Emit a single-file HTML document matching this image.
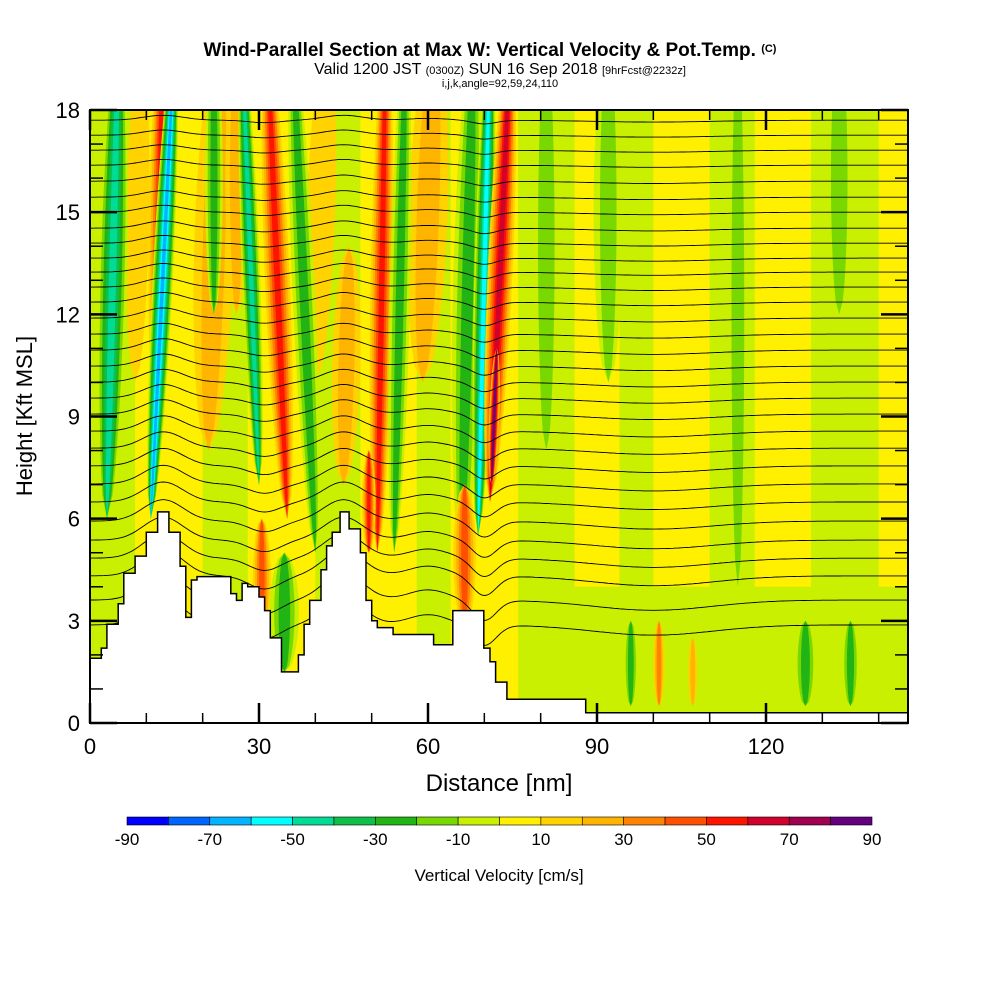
<!DOCTYPE html>
<html><head><meta charset="utf-8">
<style>
body{margin:0;background:#fff;}
svg{display:block;font-family:"Liberation Sans",sans-serif;}
</style></head>
<body>
<svg id="chart" width="1000" height="1000" viewBox="0 0 1000 1000" xmlns="http://www.w3.org/2000/svg">
<defs><clipPath id="plotclip"><rect x="90" y="110" width="818" height="613"/></clipPath></defs>
<text x="490" y="56" text-anchor="middle" font-size="19" font-weight="bold">Wind-Parallel Section at Max W: Vertical Velocity &amp; Pot.Temp. <tspan font-size="11" dy="-4">(C)</tspan></text>
<text x="500" y="74" text-anchor="middle" font-size="16">Valid 1200 JST <tspan font-size="11">(0300Z)</tspan> SUN 16 Sep 2018 <tspan font-size="11">[9hrFcst@2232z]</tspan></text>
<text x="500" y="87" text-anchor="middle" font-size="11">i,j,k,angle=92,59,24,110</text>
<g id="field" clip-path="url(#plotclip)"></g>
<g id="contours" clip-path="url(#plotclip)"></g>
<g id="terrain" clip-path="url(#plotclip)"></g>
<g id="axes"></g>
<g id="cbar"></g>
<text x="499" y="791" text-anchor="middle" font-size="24">Distance [nm]</text>
<text transform="translate(32,416) rotate(-90)" text-anchor="middle" font-size="22">Height [Kft MSL]</text>
<text x="499" y="881" text-anchor="middle" font-size="17">Vertical Velocity [cm/s]</text>
</svg>
<script>
const colors=["#0000ff","#0064ff","#00b4ff","#00ffff","#00dc96","#0cc04a","#22b414","#78d800","#c8f000","#fff000","#ffd200","#ffb400","#ff8200","#ff5000","#ff1400","#d2002d","#a00050","#640082"];
const cbarTicks=[-90,-70,-50,-30,-10,10,30,50,70,90];
const xTicks=[0,30,60,90,120];
const yTicks=[0,3,6,9,12,15,18];
// background bands [nm0, nm1, kft0, kft1, value]
const bgBands=[[0,8,0,18,-5],[8,20,0,18,5],[20,28,0,18,-5],[28,40,0,18,5],[40,48,0,18,-5],[48,58,0,18,5],[58,64,0,18,-5],[64,76,0,18,5],[76,86,0,18,-5],[86,94,0,18,5],[94,100,0,18,-5],[100,110,0,18,5],[110,118,0,18,-5],[118,128,0,18,5],[128,140,0,18,-5],[140,146,0,18,5],[80,146,0,4,-5]];
// streaks [nmBottom, nmTop, kftBottom, kftTop, value, halfWidthNm]
const streaks=[[21,23,8,20,25,3.5],[59,61,10,20,25,3.5],[45,46,7,14,25,2.5],[40,42,10,20,15,2.5],[8,9,10,20,15,2],[26,26,12,20,25,2],[22,22,12,20,-25,1.6],
[3,5,6,20,-45,2.6],[12,12.8,8.5,20,55,2],[10.8,15,6,20,-65,1.8],
[30,27,7,20,-45,1.6],[35,31.5,6,20,55,2.2],[40,36,5,20,-30,2],
[51,52.5,5,20,55,2],[54,56,5,20,-30,1.8],[49.5,49.5,5,8,55,1.2],
[66,68,5,20,-25,2.6],[68.9,71,5.5,20,-60,1.8],[71,74.6,6.5,20,65,2.2],[71.3,72.2,7,11,85,0.9],
[30.5,30.5,2.5,6,45,1.6],[66.5,66.5,2.8,7,45,2],[34.5,34.5,1.5,5,-25,2.6],
[101,101,0.5,3,35,1],[107,107,0.5,2.5,25,0.8],[127,127,0.5,3,-25,2],[135,135,0.5,3,-25,1.6],[96,96,0.5,3,-25,1.3],
[81,81,8,20,-18,2.6],[92,92,10,20,-15,2.6],[133,133,12,20,-15,2.6],[115,115,4,20,-15,2]];
// terrain steps [nmStart, kft]
const terrain=[[0,1.9],[2,2.2],[3,2.9],[5,3.5],[6,4.4],[8,4.9],[10,5.6],[12,6.2],[14,5.6],[16,4.6],[17,3.1],[18,4.2],[19,4.3],[25,3.8],[26,3.6],[27,4.1],[28,4.0],[30,3.7],[31,3.3],[32,2.5],[34,1.5],[37,2.0],[38,2.9],[39,3.6],[41,4.5],[42,5.2],[43,5.6],[44.4,6.2],[46,5.7],[48,5.0],[49,3.6],[50,3.0],[51,2.8],[53.8,2.6],[61,2.3],[64.4,3.3],[69.9,2.2],[71,1.8],[72,1.2],[74,0.7],[88,0.3],[146,0.3]];
// theta contour base heights (kft, right side)
const thetaLevels=[17.70,17.26,16.82,16.38,15.91,15.44,15.00,14.53,14.09,13.65,13.24,12.80,12.36,11.89,11.42,10.95,10.48,10.01,9.54,9.07,8.57,8.07,7.55,7.02,6.49,5.93,5.37,4.84,4.32,3.61,2.88];
// contour bumps [nm, amplitudeKft, widthNm]
const bumps=[[13,0.8,5],[45,0.8,5],[31,-0.4,4],[70,-0.6,3],[60,0.3,5],[100,-0.3,15]];

const NS="http://www.w3.org/2000/svg";
const X=nm=>90+nm*169/30, Y=k=>723-k*613/18;
const col=v=>colors[Math.max(0,Math.min(17,Math.floor((v+90)/10)))];
function mk(tag,attrs,parent){const e=document.createElementNS(NS,tag);for(const a in attrs)e.setAttribute(a,attrs[a]);parent.appendChild(e);return e;}
const field=document.getElementById('field');
bgBands.forEach(b=>{
  const r=mk('rect',{x:X(b[0]),y:Y(b[3]),width:X(b[1])-X(b[0])+0.5,height:Y(b[2])-Y(b[3]),fill:col(b[4])},field);
  
  
});
streaks.forEach(s=>{
  const v=s[4],sg=Math.sign(v),mag=Math.abs(v);
  const levels=[];
  if(sg>0){for(let L=10;L<=mag;L+=10)levels.push(L);} else {for(let L=0;L<mag;L+=10)levels.push(L);}
  levels.forEach((L,i)=>{
    const f=1-i/(levels.length+0.3);
    const w=s[5]*f;
    const left=[],right=[];
    for(let j=0;j<=20;j++){
      const t=j/20,k=s[2]+t*(s[3]-s[2]),c=s[0]+t*(s[1]-s[0]);
      const hw=w*Math.pow(Math.sin(Math.PI*t),0.45);
      left.push(X(c-hw).toFixed(1)+','+Y(k).toFixed(1));
      right.unshift(X(c+hw).toFixed(1)+','+Y(k).toFixed(1));
    }
    const val=sg>0?L+5:-(L+5);
    const p=mk('polygon',{points:left.concat(right).join(' '),fill:col(val)},field);
    
    
  });
});
// contours
const cg=document.getElementById('contours');
thetaLevels.forEach(base=>{
  let d='';
  for(let x=0;x<=146;x+=0.5){
    let h=base;
    const decay=Math.exp(-Math.max(0,base-4)/8);
    bumps.forEach(b=>{h+=b[1]*decay*Math.exp(-Math.pow((x-b[0])/b[2],2));});
    d+=(x===0?'M':'L')+X(x).toFixed(1)+','+Y(h).toFixed(1);
  }
  const p=mk('path',{d:d,fill:'none',stroke:'#000','stroke-width':0.9},cg);
  
  
});
// terrain
const tg=document.getElementById('terrain');
let td='M'+X(0)+','+Y(0);
terrain.forEach((t,i)=>{
  const xe=i+1<terrain.length?terrain[i+1][0]:146;
  td+='L'+X(t[0]).toFixed(1)+','+Y(t[1]).toFixed(1)+'L'+X(xe).toFixed(1)+','+Y(t[1]).toFixed(1);
});
td+='L'+X(146)+','+Y(0)+'Z';
const tp=mk('path',{d:td,fill:'#fff',stroke:'#000','stroke-width':1.5},tg);


// axes
const ax=document.getElementById('axes');
const fr=mk('rect',{x:90,y:110,width:818,height:613,fill:'none',stroke:'#000','stroke-width':2},ax);


for(let nm=0;nm<=140;nm+=10){
  const major=nm%30===0,len=major?20:10;
  mk('line',{x1:X(nm),y1:723,x2:X(nm),y2:723-len,stroke:'#000','stroke-width':major?2.5:1.5},ax);
  mk('line',{x1:X(nm),y1:110,x2:X(nm),y2:110+len,stroke:'#000','stroke-width':major?2.5:1.5},ax);
}
for(let k=0;k<=18;k++){
  const major=k%3===0,len=major?27:13;
  mk('line',{x1:90,y1:Y(k),x2:90+len,y2:Y(k),stroke:'#000','stroke-width':major?2.5:1.5},ax);
  mk('line',{x1:908,y1:Y(k),x2:908-len,y2:Y(k),stroke:'#000','stroke-width':major?2.5:1.5},ax);
}
xTicks.forEach(v=>{
  const t=mk('text',{x:X(v),y:754,'text-anchor':'middle','font-size':22},ax);t.textContent=v;
  
  
});
yTicks.forEach(v=>{
  const t=mk('text',{x:80,y:Y(v)+8,'text-anchor':'end','font-size':22},ax);t.textContent=v;
  
  
});
// colorbar
const cb=document.getElementById('cbar');
const cw=745/18;
colors.forEach((c,i)=>{
  const r=mk('rect',{x:127+i*cw,y:817,width:cw,height:8,fill:c,stroke:'#000','stroke-width':0.6},cb);
  
  
});
cbarTicks.forEach(v=>{
  const t=mk('text',{x:127+(v+90)/10*cw,y:845,'text-anchor':'middle','font-size':17},cb);t.textContent=v;
  
  
});
</script>
</body></html>
